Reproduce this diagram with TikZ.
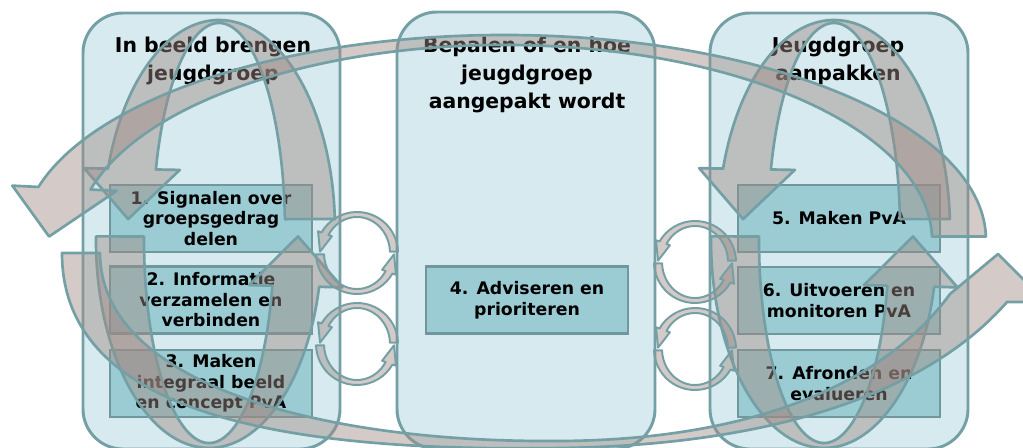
\documentclass[tikz,border=0pt]{standalone}
\usepackage{fontspec}
\setmainfont{DejaVu Sans}
\usetikzlibrary{calc,math}

\definecolor{panelfill}{HTML}{D6EAEF}
\definecolor{panelline}{HTML}{74A0A5}
\definecolor{boxfill}{HTML}{9BCCD4}
\definecolor{boxline}{HTML}{6F979C}
\definecolor{loopfill}{HTML}{A08A84}

\tikzset{
  panel/.style={draw=panelline, line width=2.1pt, fill=panelfill, rounded corners=1cm},
  title/.style={font=\bfseries\fontsize{14.5}{20}\selectfont, align=center},
  stepbox/.style={draw=boxline, line width=2pt, fill=boxfill, minimum width=5.05cm,
    minimum height=1.675cm, inner sep=0pt, align=center,
    font=\bfseries\fontsize{12.3}{14.6}\selectfont},
  loop arrow/.style={draw=panelline, line width=1.9pt, fill=loopfill, fill opacity=.45,
    line join=round},
}

% centre x, centre y, outer radii, inner radii, start, end, tip angle
\newcommand\ringarrow[9]{%
  \coordinate (rc) at (#1,#2);
  \coordinate (ro) at ($(rc)+(#8:#3 and #4)$);
  \coordinate (ri) at ($(rc)+(#8:#5 and #6)$);
  \coordinate (rt) at ($(rc)+(#9:#3/2+#5/2 and #4/2+#6/2)$);
  \draw[loop arrow] ($(rc)+(#7:#3 and #4)$)
    arc[start angle=#7, end angle=#8, x radius=#3, y radius=#4]
    -- ($(ri)!1.5!(ro)$) -- (rt) -- ($(ro)!1.5!(ri)$) -- (ri)
    arc[start angle=#8, end angle=#7, x radius=#5, y radius=#6] -- cycle;
}

\begin{document}
\begin{tikzpicture}[x=0.025cm, y=-0.025cm]
  \tikzmath{
    real \shift;
    \shift = 615;
  }
  \useasboundingbox (0,0) rectangle (1023,447);

  % the three phases
  \draw[panel] (83,13) rectangle (340,449);
  \draw[panel] (397,12) rectangle (655,449);
  \draw[panel] (710,13) rectangle (968,449);

  \node[title] (titleL) at (213,61) {In beeld brengen\\jeugdgroep};
  \node[title] (titleM) at (527,75) {Bepalen of en hoe\\jeugdgroep\\aangepakt wordt};
  \node[title] (titleR) at (838,61) {Jeugdgroep\\aanpakken};

  % steps
  \node[stepbox] (s1) at (211,218.5) {1. Signalen over\\groepsgedrag\\delen};
  \node[stepbox] (s2) at (211,300) {2. Informatie\\verzamelen en\\verbinden};
  \node[stepbox] (s3) at (211,383.5) {3. Maken\\integraal beeld\\en concept PvA};
  \node[stepbox] (s4) at (527,300) {4. Adviseren en\\prioriteren};
  \node[stepbox] (s5) at (839,218.5) {5. Maken PvA};
  \node[stepbox] (s6) at (839,300.5) {6. Uitvoeren en\\monitoren PvA};
  \node[stepbox] (s7) at (839,383.5) {7. Afronden en\\evalueren};

  % loops inside the outer panels
  \ringarrow{219}{230}{116}{210}{66}{207}{-3}{-163}{-177}
  \ringarrow{209}{240}{113}{208}{65}{203}{181}{13}{-1}
  \ringarrow{219+\shift}{230}{116}{210}{66}{207}{-3}{-163}{-177}
  \ringarrow{209+\shift}{240}{113}{208}{65}{203}{181}{13}{-1}

  % big loop round all three
  \ringarrow{504}{240}{482}{205}{428}{195}{-1}{-165}{-179}
  \draw[loop arrow] (62,253) .. controls (62,420) and (300,452) .. (560,448)
    .. controls (780,445) and (930,390) .. (1007,302) -- (1046,302) -- (998,254) -- (950,294)
    .. controls (880,390) and (740,440) .. (560,441)
    .. controls (310,443) and (100,380) .. (100,253) -- cycle;

  % small cycles between the panels
  \begin{scope}[loop arrow/.append style={line width=1.4pt}]
    \foreach \cx/\cy in {357/253,357/344,695/262,695/349} {
      \ringarrow{\cx}{\cy}{41}{41}{33}{36}{-2}{-150}{-178}
      \ringarrow{\cx}{\cy}{41}{41}{33}{36}{178}{30}{2}
    }
  \end{scope}
\end{tikzpicture}
\end{document}
